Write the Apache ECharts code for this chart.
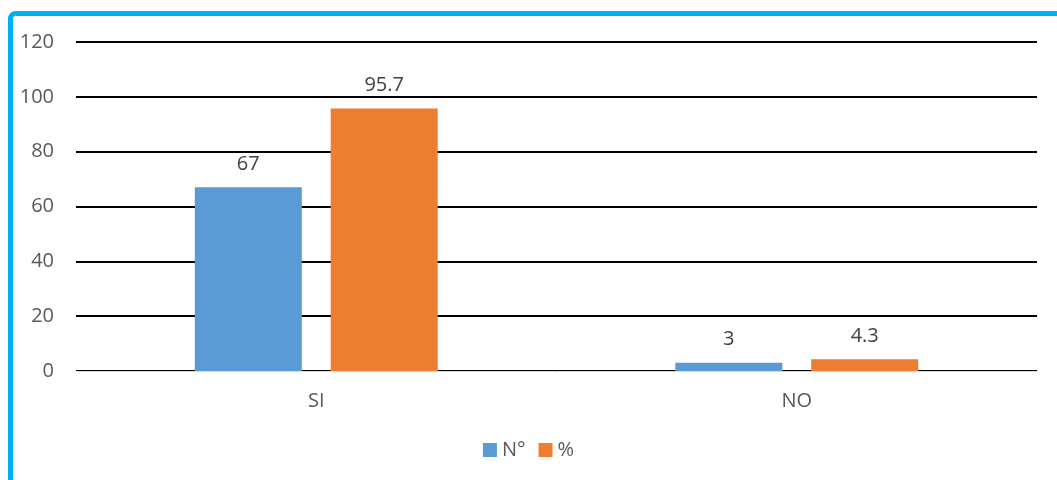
<!DOCTYPE html>
<html><head><meta charset="utf-8">
<script src="https://cdn.jsdelivr.net/npm/echarts@6/dist/echarts.min.js"></script>
<style>html,body{margin:0;padding:0;background:#fff}#c{width:1057px;height:480px}</style>
</head><body><div id="c"></div>
<script>
const categories = ['SI', 'NO'];
const seriesNames = ['N°', '%'];
const countValues = [67, 3];
const percentValues = [95.7, 4.3];
const colors = ['#5B9BD5', '#ED7D31'];

const chart = echarts.init(document.getElementById('c'));
const font = '"Open Sans", "Noto Sans", sans-serif';
function bar(name, data, color) {
  return {
    name, type: 'bar', data, barWidth: 107, barGap: '27%',
    itemStyle: { color },
    label: { show: true, position: 'top', distance: 13, color: '#404040', fontSize: 20, fontFamily: font }
  };
}
chart.setOption({
  animation: false,
  textStyle: { fontFamily: font },
  graphic: [{
    type: 'rect', silent: true, z: 100,
    shape: { x: 10.5, y: 13.5, width: 1100, height: 500, r: 5 },
    style: { fill: 'none', stroke: '#00B0F0', lineWidth: 5 }
  }],
  grid: { left: 76, right: 20, top: 42, bottom: 109, containLabel: false },
  legend: {
    top: 435, left: 'center', itemWidth: 14, itemHeight: 14, itemGap: 13,
    icon: 'rect', textStyle: { color: '#595959', fontSize: 20, fontFamily: font },
    data: seriesNames
  },
  xAxis: {
    type: 'category', data: categories,
    axisLine: { lineStyle: { color: '#D9D9D9', width: 1 } },
    axisTick: { show: false },
    axisLabel: { color: '#595959', fontSize: 20, margin: 20, fontFamily: font }
  },
  yAxis: {
    type: 'value', min: 0, max: 120, interval: 20,
    axisLine: { show: false }, axisTick: { show: false },
    axisLabel: { color: '#595959', fontSize: 20, margin: 22, fontFamily: font },
    splitLine: { lineStyle: { color: '#000', width: 2 } }
  },
  series: [bar(seriesNames[0], countValues, colors[0]), bar(seriesNames[1], percentValues, colors[1])]
});
</script></body></html>
